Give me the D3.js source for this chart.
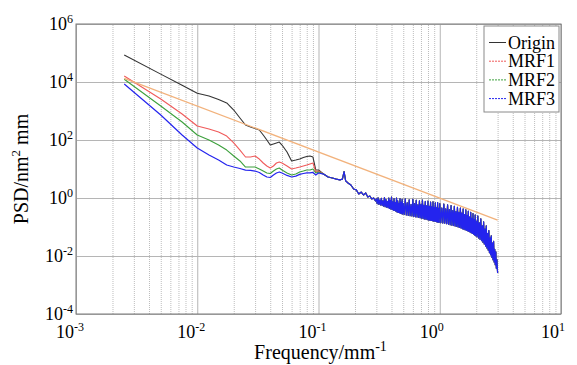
<!DOCTYPE html>
<html>
<head>
<meta charset="utf-8">
<script src="https://cdn.jsdelivr.net/npm/d3@7/dist/d3.min.js"></script>
<style>
  body { margin: 0; background: #fff; font-family: Liberation Serif, serif; }
</style>
</head>
<body>
<svg id="chart"></svg>
<script>
// low frequency part, every series has its own values here
const freqLow = [0.0025, 0.005, 0.0075, 0.01, 0.0125, 0.015, 0.0175, 0.02, 0.0225, 0.025,
  0.0275, 0.03, 0.0325, 0.035, 0.0375, 0.04, 0.0425, 0.045, 0.0475, 0.05,
  0.055, 0.06, 0.065, 0.07, 0.075, 0.08, 0.085, 0.09, 0.095, 0.1];
const originLow = [85300, 18700, 7700, 4070, 3290, 2490, 1890, 1080, 574, 329,
  281, 249, 221, 149, 100, 67, 73, 79, 85, 67,
  38.5, 18.9, 20.4, 22.1, 24.9, 27, 28, 25.9, 9.2, 9.2];
const mrf1Low = [16100, 2590, 789, 304, 239, 189, 137, 79, 45, 25.9,
  25.9, 28, 22.1, 16.1, 12.7, 10.8, 12.7, 16.1, 17.4, 16.1,
  12.7, 10, 10.8, 11.7, 12.7, 13.7, 14.9, 16.1, 7.9, 8.5];
const mrf2Low = [12400, 1490, 418, 149, 100, 67, 45, 28, 18.9, 11.7,
  11.7, 11.7, 10, 8.5, 7.3, 7.0, 8.5, 10, 10.8, 9.2,
  7.3, 6.2, 6.7, 7.9, 8.5, 9.2, 9.2, 10, 7.3, 7.9];
const mrf3Low = [8530, 728, 149, 53, 30.4, 20.4, 13.7, 11.7, 10.4, 9.2,
  8.9, 8.5, 7.6, 6.2, 5.3, 5.1, 6.2, 7.3, 7.9, 7.3,
  6.0, 5.3, 5.7, 6.5, 7.0, 7.3, 7.3, 7.6, 6.2, 7.3];

// above 0.1 mm^-1 the four curves overlap
const freqMid = [0.11, 0.12, 0.13, 0.14, 0.15, 0.1575, 0.1625, 0.1675, 0.175, 0.185,
  0.195, 0.205, 0.215, 0.225, 0.235, 0.245, 0.255, 0.265, 0.275, 0.285, 0.295];
const psdMid = [6.7, 5.3, 4.9, 4.5, 4.2, 4.5, 8.1, 3.9, 3.3, 2.8,
  2.04, 1.9, 1.37, 1.6, 1.27, 1.49, 1.08, 1.17, 0.92, 1.0, 0.79];

// noisy high frequency tail
const freqHigh = [
  0.300, 0.305, 0.310, 0.315, 0.320, 0.325, 0.330, 0.335, 0.340, 0.345,
  0.350, 0.355, 0.360, 0.365, 0.370, 0.375, 0.380, 0.385, 0.390, 0.395,
  0.400, 0.405, 0.410, 0.415, 0.420, 0.425, 0.430, 0.435, 0.440, 0.445,
  0.450, 0.455, 0.460, 0.465, 0.470, 0.475, 0.480, 0.485, 0.490, 0.495,
  0.50, 0.51, 0.52, 0.53, 0.54, 0.55, 0.56, 0.57, 0.58, 0.59,
  0.60, 0.61, 0.62, 0.63, 0.64, 0.65, 0.66, 0.67, 0.68, 0.69,
  0.70, 0.71, 0.72, 0.73, 0.74, 0.75, 0.76, 0.77, 0.78, 0.79,
  0.80, 0.81, 0.82, 0.83, 0.84, 0.85, 0.86, 0.87, 0.88, 0.89,
  0.90, 0.91, 0.92, 0.93, 0.94, 0.95, 0.96, 0.97, 0.98, 0.99,
  1.00, 1.02, 1.04, 1.06, 1.08, 1.10, 1.12, 1.14, 1.16, 1.18,
  1.20, 1.22, 1.24, 1.26, 1.28, 1.30, 1.32, 1.34, 1.36, 1.38,
  1.40, 1.42, 1.44, 1.46, 1.48, 1.50, 1.52, 1.54, 1.56, 1.58,
  1.60, 1.62, 1.64, 1.66, 1.68, 1.70, 1.72, 1.74, 1.76, 1.78,
  1.80, 1.82, 1.84, 1.86, 1.88, 1.90, 1.92, 1.94, 1.96, 1.98,
  2.00, 2.03, 2.06, 2.09, 2.12, 2.15, 2.18, 2.21, 2.24, 2.27,
  2.30, 2.33, 2.36, 2.39, 2.42, 2.45, 2.48, 2.51, 2.54, 2.57,
  2.60, 2.63, 2.66, 2.69, 2.72, 2.75, 2.78, 2.81, 2.84, 2.87,
  2.90, 2.93, 2.96, 3.00];
const psdHigh = [
  0.93, 0.64, 1.02, 0.60, 0.85, 0.58, 0.97, 0.55, 0.80, 0.52,
  1.04, 0.50, 0.88, 0.48, 0.76, 0.46, 0.99, 0.44, 0.83, 0.42,
  1.08, 0.40, 0.74, 0.38, 0.95, 0.37, 0.70, 0.35, 1.0, 0.33,
  0.80, 0.32, 0.66, 0.31, 0.96, 0.30, 0.72, 0.29, 0.90, 0.28,
  0.64, 0.27, 0.93, 0.26, 0.68, 0.25, 0.86, 0.245, 0.60, 0.24,
  0.90, 0.23, 0.64, 0.225, 0.84, 0.22, 0.58, 0.215, 0.80, 0.21,
  0.60, 0.20, 0.85, 0.195, 0.56, 0.19, 0.76, 0.185, 0.54, 0.18,
  0.78, 0.175, 0.52, 0.17, 0.72, 0.168, 0.50, 0.165, 0.74, 0.16,
  0.48, 0.158, 0.68, 0.155, 0.46, 0.15, 0.70, 0.147, 0.44, 0.145,
  0.64, 0.14, 0.45, 0.137, 0.62, 0.134, 0.42, 0.13, 0.58, 0.125,
  0.40, 0.12, 0.55, 0.116, 0.37, 0.112, 0.52, 0.108, 0.34, 0.104,
  0.48, 0.10, 0.32, 0.096, 0.45, 0.092, 0.30, 0.088, 0.42, 0.084,
  0.27, 0.08, 0.39, 0.077, 0.25, 0.074, 0.35, 0.07, 0.22, 0.067,
  0.32, 0.064, 0.20, 0.06, 0.29, 0.057, 0.18, 0.053, 0.26, 0.05,
  0.16, 0.046, 0.24, 0.042, 0.14, 0.038, 0.19, 0.034, 0.11, 0.030,
  0.15, 0.026, 0.085, 0.022, 0.11, 0.019, 0.06, 0.016, 0.075, 0.013,
  0.042, 0.011, 0.05, 0.009, 0.028, 0.0075, 0.032, 0.0062, 0.017, 0.005,
  0.014, 0.0038, 0.0075, 0.0026];

// power-law reference line (two end points)
const fitFreq = [0.0025, 3.0];
const fitPsd = [13400, 0.174];

const seriesNames = ['Origin', 'MRF1', 'MRF2', 'MRF3'];
const seriesLow = [originLow, mrf1Low, mrf2Low, mrf3Low];
const seriesColors = ['#333333', '#f05a5a', '#3ca03c', '#2424ee'];

const xDecades = [1e-3, 1e-2, 1e-1, 1e0, 1e1];
const xExponents = ['-3', '-2', '-1', '0', '1'];
const yDecades = [1e-4, 1e-2, 1e0, 1e2, 1e4, 1e6];
const yExponents = ['-4', '-2', '0', '2', '4', '6'];

const width = 577, height = 365;
const margin = { top: 24, right: 16, bottom: 51, left: 76 };
const innerWidth = width - margin.left - margin.right;
const innerHeight = height - margin.top - margin.bottom;
const fontFamily = 'Liberation Serif';

const svg = d3.select('#chart')
  .attr('width', width)
  .attr('height', height)
  .style('display', 'block')
  .style('font-family', fontFamily);

const xScale = d3.scaleLog().domain([1e-3, 1e1]).range([0, innerWidth]);
const yScale = d3.scaleLog().domain([1e-4, 1e6]).range([innerHeight, 0]);

const mainGroup = svg.append('g')
  .attr('transform', `translate(${margin.left}, ${margin.top})`);

// grid: vertical minor + major lines, horizontal only at labelled decades
const xMinor = [];
xDecades.slice(0, -1).forEach(d => { for (let m = 2; m <= 9; m++) xMinor.push(d * m); });

mainGroup.append('g')
  .attr('class', 'grid minor')
  .attr('transform', `translate(0, ${innerHeight})`)
  .call(d3.axisBottom(xScale).tickValues(xMinor).tickSize(-innerHeight).tickFormat(''))
  .call(g => g.select('.domain').remove())
  .call(g => g.selectAll('line').attr('stroke', '#bdbdbd').attr('stroke-dasharray', '1,1'));

mainGroup.append('g')
  .attr('class', 'grid major')
  .attr('transform', `translate(0, ${innerHeight})`)
  .call(d3.axisBottom(xScale).tickValues(xDecades).tickSize(-innerHeight).tickFormat(''))
  .call(g => g.select('.domain').remove())
  .call(g => g.selectAll('line').attr('stroke', '#b5b5b5'));

mainGroup.append('g')
  .attr('class', 'grid major')
  .call(d3.axisLeft(yScale).tickValues(yDecades).tickSize(-innerWidth).tickFormat(''))
  .call(g => g.select('.domain').remove())
  .call(g => g.selectAll('line').attr('stroke', '#b5b5b5'));

const line = d3.line()
  .x(d => xScale(d[0]))
  .y(d => yScale(d[1]));

const freqAll = freqLow.concat(freqMid, freqHigh);

// curves
seriesLow.forEach((low, i) => {
  const values = low.concat(psdMid, psdHigh);
  mainGroup.append('path')
    .datum(freqAll.map((f, j) => [f, values[j]]))
    .attr('class', 'line')
    .attr('fill', 'none')
    .attr('stroke', seriesColors[i])
    .attr('stroke-width', i === 3 ? 1.2 : 1.1)
    .attr('stroke-linejoin', 'round')
    .attr('d', line);
});

mainGroup.append('path')
  .datum(fitFreq.map((f, j) => [f, fitPsd[j]]))
  .attr('fill', 'none')
  .attr('stroke', '#f2b27c')
  .attr('stroke-width', 1.3)
  .attr('d', line);

// frame
mainGroup.append('rect')
  .attr('width', innerWidth)
  .attr('height', innerHeight)
  .attr('fill', 'none')
  .attr('stroke', '#7a7a7a');

// tick labels
const xLabels = svg.append('g').selectAll('text')
  .data(xDecades)
  .enter()
  .append('text')
  .attr('x', d => margin.left + xScale(d) - 20)
  .attr('y', 338)
  .style('font-family', fontFamily)
  .attr('font-size', 18);
xLabels.append('tspan').text('10');
xLabels.append('tspan').attr('dy', -7).attr('font-size', 12).text((d, i) => xExponents[i]);

const yLabels = svg.append('g').selectAll('text')
  .data(yDecades)
  .enter()
  .append('text')
  .attr('x', 73)
  .attr('y', d => margin.top + yScale(d) + 6)
  .attr('text-anchor', 'end')
  .style('font-family', fontFamily)
  .attr('font-size', 18);
yLabels.append('tspan').text('10');
yLabels.append('tspan').attr('dy', -7).attr('font-size', 12).text((d, i) => yExponents[i]);

// axis titles
const xTitle = svg.append('text')
  .attr('x', margin.left + innerWidth / 2 + 2)
  .attr('y', 359)
  .attr('text-anchor', 'middle')
  .style('font-family', fontFamily)
  .attr('font-size', 20);
xTitle.append('tspan').text('Frequency/mm');
xTitle.append('tspan').attr('dy', -8).attr('font-size', 14).text('-1');

const yTitle = svg.append('text')
  .attr('transform', `translate(28, ${margin.top + innerHeight / 2}) rotate(-90)`)
  .attr('text-anchor', 'middle')
  .style('font-family', fontFamily)
  .attr('font-size', 20);
yTitle.append('tspan').text('PSD/nm');
yTitle.append('tspan').attr('dy', -8).attr('font-size', 13).text('2');
yTitle.append('tspan').attr('dy', 8).text(' mm');

// legend
const legend = svg.append('g').attr('transform', 'translate(484, 26)');
legend.append('rect')
  .attr('width', 75)
  .attr('height', 86)
  .attr('fill', '#fff')
  .attr('stroke', '#8a8a8a');
const items = legend.selectAll('.item')
  .data(seriesNames)
  .enter()
  .append('g')
  .attr('class', 'item')
  .attr('transform', (d, i) => `translate(0, ${16.5 + i * 18.7})`);
items.append('line')
  .attr('x1', 5).attr('x2', 22)
  .attr('stroke', (d, i) => seriesColors[i])
  .attr('stroke-width', 1)
  .attr('stroke-dasharray', (d, i) => i === 0 ? null : '2,1');
items.append('text')
  .attr('x', 24)
  .attr('y', 6)
  .style('font-family', fontFamily)
  .attr('font-size', 18)
  .text(d => d);
</script>
</body>
</html>
